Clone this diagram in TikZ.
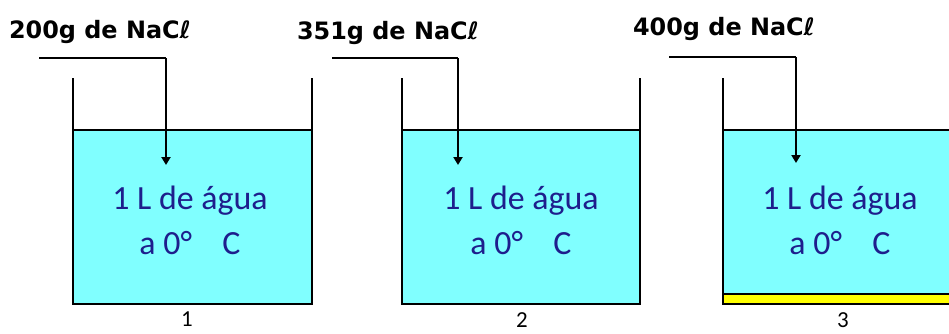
\documentclass[tikz,border=0pt]{standalone}
\usepackage{fontspec}
\setmainfont{Carlito}
\newfontfamily\labfont{DejaVu Sans}
\usetikzlibrary{arrows.meta}
\definecolor{water}{RGB}{128,255,255}
\definecolor{salt}{RGB}{255,255,0}
\definecolor{inktext}{RGB}{30,30,140}
\tikzset{
  wall/.style={line width=1.6bp, black},
  feed/.style={line width=2.4bp, black, -{Triangle[width=9bp,length=8bp]}},
  feedh/.style={line width=1.8bp, black},
  masslabel/.style={font=\labfont\bfseries\fontsize{24}{28}\selectfont, inner sep=0pt},
  content/.style={font=\fontsize{34}{45}\selectfont, text=inktext, align=center, inner sep=0pt},
  numlabel/.style={font=\fontsize{23}{25}\selectfont, inner sep=0pt, anchor=north}
}
\begin{document}
\begin{tikzpicture}[x=1bp,y=-1bp]
\useasboundingbox (0,0) rectangle (949,333);
\clip (0,0) rectangle (949,333);
% beaker 1
\fill[water] (73,130) rectangle (312,304);
\draw[wall] (73,78) -- (73,304) -- (312,304) -- (312,78);
\draw[wall] (73,130) -- (312,130);
% beaker 2
\fill[water] (402,130) rectangle (640,304);
\draw[wall] (402,78) -- (402,304) -- (640,304) -- (640,78);
\draw[wall] (402,130) -- (640,130);
% beaker 3
\fill[water] (723,130) rectangle (960,294);
\fill[salt] (723,294) rectangle (960,304);
\draw[wall] (723,78) -- (723,304) -- (960,304);
\draw[wall] (723,130) -- (960,130);
\draw[wall] (723,294) -- (960,294);
% mass labels
\node[masslabel] (m1) at (100,32) {200g de NaCℓ};
\node[masslabel] (m2) at (388,33) {351g de NaCℓ};
\node[masslabel] (m3) at (724,29) {400g de NaCℓ};
% feed lines
\coordinate (s1) at (39,58); \coordinate (k1) at (166,58); \coordinate (e1) at (166,165);
\coordinate (s2) at (332,58); \coordinate (k2) at (458,58); \coordinate (e2) at (458,165);
\coordinate (s3) at (669,57); \coordinate (k3) at (796,57); \coordinate (e3) at (796,163);
\draw[feedh] (s1) -- (k1);
\draw[feed] (k1) -- (e1);
\draw[feedh] (s2) -- (k2);
\draw[feed] (k2) -- (e2);
\draw[feedh] (s3) -- (k3);
\draw[feed] (k3) -- (e3);
% contents
\node[content] (c1) at (190,220) {1 L de água\\a 0°\hspace{0.9em}C};
\node[content] (c2) at (521,220) {1 L de água\\a 0°\hspace{0.9em}C};
\node[content] (c3) at (840,220) {1 L de água\\a 0°\hspace{0.9em}C};
% numbers
\node[numlabel] (n1) at (187,312) {1};
\node[numlabel] (n2) at (522,312) {2};
\node[numlabel] (n3) at (843,312) {3};
\end{tikzpicture}
\end{document}
